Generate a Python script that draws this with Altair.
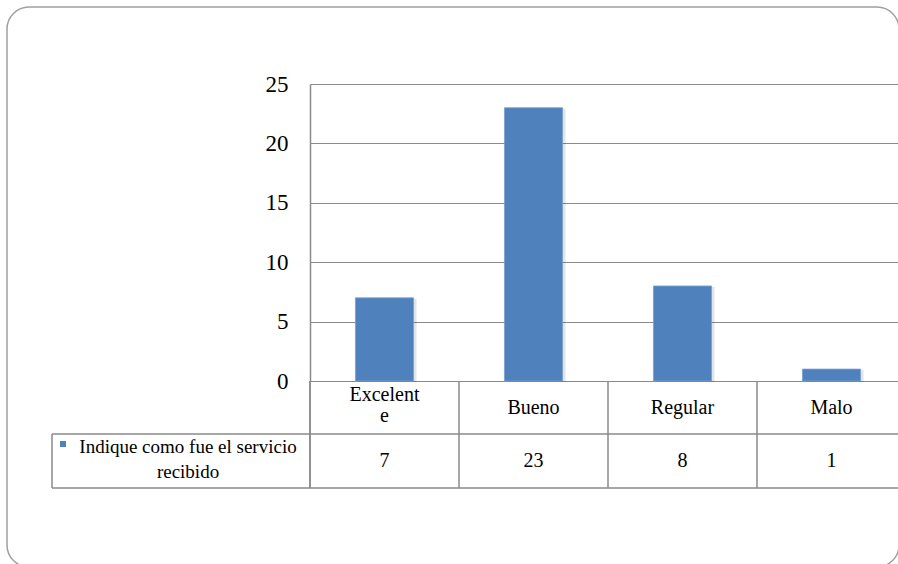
import altair as alt
import pandas as pd

categories = ["Excelente", "Bueno", "Regular", "Malo"]
category_lines = [["Excelent", "e"], "Bueno", "Regular", "Malo"]
values = [7, 23, 8, 1]
series_lines = ["Indique como fue el servicio", "recibido"]
y_ticks = [0, 5, 10, 15, 20, 25]

BAR = "#4F81BD"
GRID = "#8a8a8a"
FONT = "Times New Roman"

df = pd.DataFrame({"cat": categories, "value": values})
lab = pd.DataFrame({"cat": categories[1:], "label": category_lines[1:]})
lab_multi = pd.DataFrame({"cat": [categories[0]], "label": [category_lines[0]]})
one = pd.DataFrame({"series": [series_lines]})

xscale = alt.Scale(domain=categories, range=[0, 596], paddingInner=0, paddingOuter=0)
X = alt.X("cat:N", scale=xscale, axis=None, sort=categories)

frame = alt.Chart(one).mark_rect(
    filled=False, stroke="#a0a0a0", strokeWidth=1.5, cornerRadius=22
).encode(x=alt.value(-303), x2=alt.value(589), y=alt.value(-77), y2=alt.value(483))

shadow = alt.Chart(df).mark_bar(
    width=alt.RelativeBandSize(0.39), color="#000000", opacity=0.10, xOffset=3, yOffset=1
).encode(x=X, y=alt.Y("value:Q"))

bars = alt.Chart(df).mark_bar(
    width=alt.RelativeBandSize(0.39), color=BAR, stroke="#7aa0cf", strokeWidth=0.8
).encode(
    x=X,
    y=alt.Y(
        "value:Q",
        scale=alt.Scale(domain=[0, 25], nice=False),
        axis=alt.Axis(
            values=y_ticks, title=None, ticks=False, grid=True, gridColor=GRID,
            domainColor=GRID, domainWidth=1.5, labelFont=FONT, labelFontSize=23,
            labelColor="#000000", labelPadding=22,
        ),
    ),
)

vlines = alt.Chart(df).mark_rule(color=GRID, strokeWidth=1.5).encode(
    x=alt.X("cat:N", scale=xscale, axis=None, sort=categories, bandPosition=0),
    y=alt.value(297), y2=alt.value(404),
)

hline1 = alt.Chart(one).mark_rule(color=GRID, strokeWidth=1.5).encode(
    x=alt.value(-258), x2=alt.value(600), y=alt.value(350)
)
hline2 = alt.Chart(one).mark_rule(color=GRID, strokeWidth=1.5).encode(
    x=alt.value(-258), x2=alt.value(600), y=alt.value(404)
)
leftline = alt.Chart(one).mark_rule(color=GRID, strokeWidth=1.5).encode(
    x=alt.value(-258), y=alt.value(350), y2=alt.value(404)
)
axisline = alt.Chart(one).mark_rule(color=GRID, strokeWidth=1.5).encode(
    x=alt.value(0), y=alt.value(297), y2=alt.value(404)
)

cat_text_single = alt.Chart(lab).mark_text(
    font=FONT, fontSize=20, baseline="middle"
).encode(x=X, y=alt.value(324), text="label:N")

cat_text_multi = alt.Chart(lab_multi).mark_text(
    font=FONT, fontSize=20, baseline="middle", lineHeight=21
).encode(x=X, y=alt.value(311), text="label")

val_text = alt.Chart(df).mark_text(
    font=FONT, fontSize=20, baseline="middle"
).encode(x=X, y=alt.value(377), text="value:Q")

key = alt.Chart(one).mark_rect(color=BAR).encode(
    x=alt.value(-250), x2=alt.value(-244), y=alt.value(357), y2=alt.value(363)
)
series_text = alt.Chart(one).mark_text(
    font=FONT, fontSize=19, baseline="middle", align="center", lineHeight=25
).encode(x=alt.value(-122), y=alt.value(363), text="series")

chart = alt.layer(
    frame, shadow, bars, vlines, hline1, hline2, leftline, axisline,
    cat_text_single, cat_text_multi, val_text, key, series_text
).properties(
    width=588, height=297,
    autosize=alt.AutoSizeParams(type="none"),
    padding={"left": 310, "top": 84, "right": 0, "bottom": 183},
).configure_view(strokeWidth=0)

chart.save("out.html", embed_options={"renderer": "svg", "actions": False})
